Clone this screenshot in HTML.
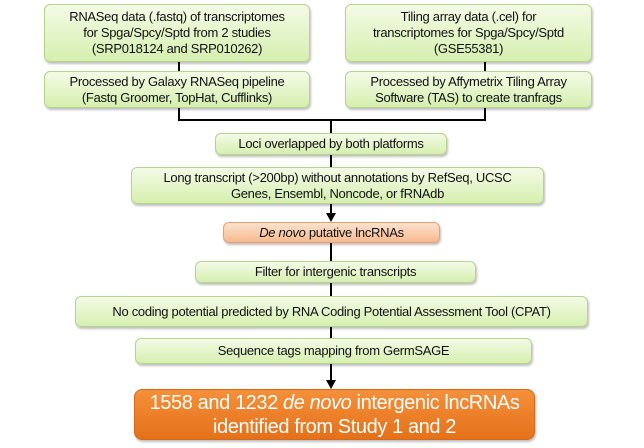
<!DOCTYPE html>
<html><head><style>
body{margin:0;width:644px;height:448px;background:#fff;position:relative;overflow:hidden;font-family:"Liberation Sans",sans-serif;}
.b{position:absolute;box-sizing:border-box;border:1px solid #b5d48c;border-radius:6px;background:linear-gradient(#f4fbe6,#d6efb0);box-shadow:1px 2px 2px rgba(0,0,0,.25);display:flex;align-items:center;justify-content:center;text-align:center;font-size:13px;line-height:16px;color:#111;letter-spacing:-.3px}
.l{position:absolute;background:#000}
</style></head><body>
<div class="l" style="left:178px;top:62px;width:2px;height:59px"></div>
<div class="l" style="left:484px;top:62px;width:2px;height:59px"></div>
<div class="l" style="left:178px;top:119px;width:308px;height:2px"></div>
<div class="l" style="left:330px;top:119px;width:2px;height:100px"></div>
<div class="l" style="left:330px;top:240px;width:2px;height:145px"></div>
<svg style="position:absolute;left:0;top:0" width="644" height="448">
<polygon points="326,213 336,213 331,222" fill="#000"/>
<polygon points="326,380 336,380 331,389" fill="#000"/>
</svg>
<div class="b" style="left:44px;top:4px;width:266px;height:58px"><span>RNASeq data (.fastq) of transcriptomes<br>for Spga/Spcy/Sptd from 2 studies<br>(SRP018124 and SRP010262)</span></div>
<div class="b" style="left:345px;top:4px;width:247px;height:58px"><span>Tiling array data (.cel) for<br>transcriptomes for Spga/Spcy/Sptd<br>(GSE55381)</span></div>
<div class="b" style="left:44px;top:71px;width:266px;height:37px"><span>Processed by Galaxy RNASeq pipeline<br>(Fastq Groomer, TopHat, Cufflinks)</span></div>
<div class="b" style="left:345px;top:71px;width:247px;height:37px"><span>Processed by Affymetrix Tiling Array<br>Software (TAS) to create tranfrags</span></div>
<div class="b" style="left:215px;top:133px;width:232px;height:22px"><span>Loci overlapped by both platforms</span></div>
<div class="b" style="left:131px;top:167px;width:413px;height:37px"><span>Long transcript (&gt;200bp) without annotations by RefSeq, UCSC<br>Genes, Ensembl, Noncode, or fRNAdb</span></div>
<div class="b" style="left:223px;top:222px;width:217px;height:21px;background:linear-gradient(#fde3d0,#f6b98e);border-color:#e8a070"><span><i>De novo</i> putative lncRNAs</span></div>
<div class="b" style="left:195px;top:261px;width:281px;height:22px"><span>Filter for intergenic transcripts</span></div>
<div class="b" style="left:75px;top:296px;width:513px;height:31px"><span>No coding potential predicted by RNA Coding Potential Assessment Tool (CPAT)</span></div>
<div class="b" style="left:135px;top:338px;width:397px;height:26px"><span>Sequence tags mapping from GermSAGE</span></div>
<div class="b" style="left:134px;top:389px;width:401px;height:51px;background:linear-gradient(#f5903a,#e4711a);border-color:#d46a1a;color:#fff;font-size:20px;line-height:24px;border-radius:8px;letter-spacing:-.4px"><span>1558 and 1232 <i>de novo</i> intergenic lncRNAs<br>identified from Study 1 and 2</span></div>
</body></html>
